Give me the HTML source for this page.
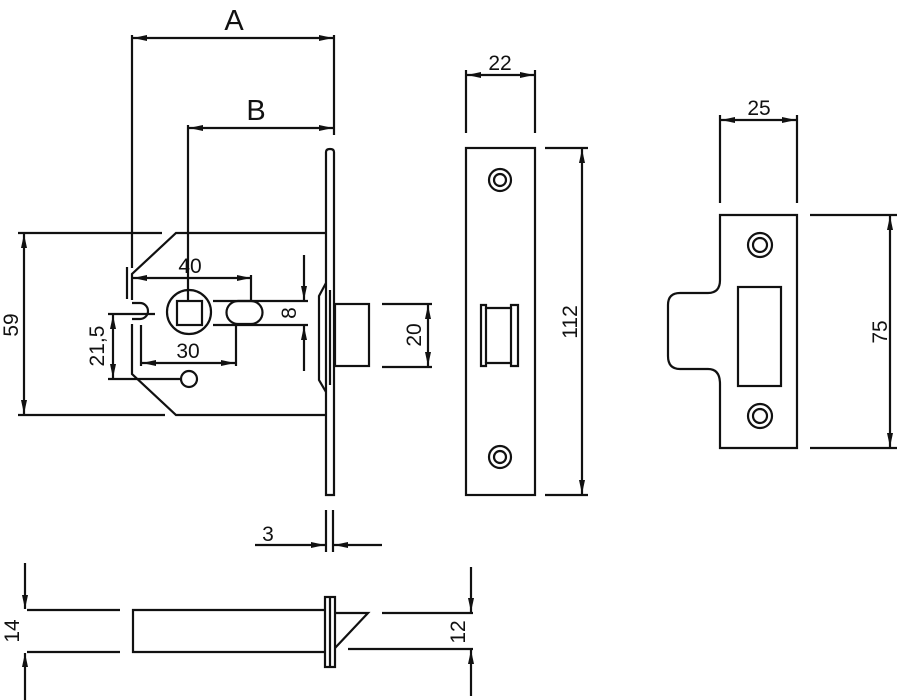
<!DOCTYPE html>
<html><head><style>html,body{margin:0;padding:0;background:#fff}svg{display:block}</style></head>
<body>
<svg width="897" height="700" viewBox="0 0 897 700" xmlns="http://www.w3.org/2000/svg" font-family="Liberation Sans, sans-serif">
<defs>
<marker id="ar" viewBox="0 0 14 6" refX="14" refY="3" markerWidth="14" markerHeight="6" orient="auto-start-reverse" markerUnits="userSpaceOnUse"><path d="M0,0 L14,3 L0,6 z" fill="#111"/></marker>
</defs>
<g stroke="#111" stroke-width="2.2" fill="none">
<line x1="132" y1="35" x2="132" y2="268"/>
<line x1="334" y1="35" x2="334" y2="135"/>
<line x1="133" y1="38" x2="333" y2="38" marker-start="url(#ar)" marker-end="url(#ar)"/>
<line x1="188" y1="125" x2="188" y2="302"/>
<line x1="189" y1="128" x2="333" y2="128" marker-start="url(#ar)" marker-end="url(#ar)"/>
<path d="M326,495 L326,152 Q326,149 330,149 Q334,149 334,152 L334,495 Z"/>
<path d="M326,283 L319,296 L319,380 L326,392"/>
<line x1="330" y1="290" x2="330" y2="385"/>
<path d="M325,233 L176,233 L132,274 L132,300"/>
<path d="M132,303 L140,303 A8,8 0 0 1 140,319 L132,319"/>
<path d="M132,324 L132,374 L176,415 L325,415"/>
<line x1="18" y1="233" x2="162" y2="233"/>
<line x1="18" y1="415" x2="165" y2="415"/>
<line x1="24" y1="234" x2="24" y2="414" marker-start="url(#ar)" marker-end="url(#ar)"/>
<circle cx="189" cy="312" r="22"/>
<rect x="177" y="301" width="25" height="24"/>
<line x1="213" y1="301" x2="308" y2="301"/>
<line x1="213" y1="325" x2="308" y2="325"/>
<path d="M238,301 L251,301 A11.5,11.5 0 0 1 251,324 L238,324 A11.5,11.5 0 0 1 238,301 Z"/>
<circle cx="189" cy="379" r="8"/>
<line x1="155" y1="314" x2="108" y2="314"/>
<line x1="180" y1="379" x2="108" y2="379"/>
<line x1="127" y1="267" x2="127" y2="299"/>
<line x1="251" y1="275" x2="251" y2="300"/>
<line x1="133" y1="278" x2="251" y2="278" marker-start="url(#ar)" marker-end="url(#ar)"/>
<line x1="141" y1="325" x2="141" y2="366"/>
<line x1="236" y1="325" x2="236" y2="366"/>
<line x1="142" y1="363" x2="235" y2="363" marker-start="url(#ar)" marker-end="url(#ar)"/>
<line x1="113" y1="315" x2="113" y2="378" marker-start="url(#ar)" marker-end="url(#ar)"/>
<line x1="304" y1="255" x2="304" y2="300" marker-end="url(#ar)"/>
<line x1="304" y1="371" x2="304" y2="326" marker-end="url(#ar)"/>
<rect x="335" y="304" width="34" height="62"/>
<line x1="382" y1="304" x2="432" y2="304"/>
<line x1="382" y1="367" x2="432" y2="367"/>
<line x1="428" y1="305" x2="428" y2="366" marker-start="url(#ar)" marker-end="url(#ar)"/>
<line x1="326" y1="510" x2="326" y2="552"/>
<line x1="333" y1="510" x2="333" y2="552"/>
<line x1="255" y1="545" x2="325" y2="545" marker-end="url(#ar)"/>
<line x1="382" y1="545" x2="334" y2="545" marker-end="url(#ar)"/>
<rect x="466" y="148" width="69" height="347"/>
<circle cx="500" cy="180" r="11"/><circle cx="500" cy="180" r="6"/>
<circle cx="500" cy="457" r="11"/><circle cx="500" cy="457" r="6"/>
<path d="M481,305 L486,305 L486,308 L511,308 L511,305 L518,305 L518,366 L511,366 L511,363 L486,363 L486,366 L481,366 Z"/>
<line x1="486" y1="308" x2="486" y2="363"/>
<line x1="511" y1="308" x2="511" y2="363"/>
<line x1="466" y1="70" x2="466" y2="133"/>
<line x1="535" y1="70" x2="535" y2="133"/>
<line x1="467" y1="75" x2="534" y2="75" marker-start="url(#ar)" marker-end="url(#ar)"/>
<line x1="545" y1="148" x2="588" y2="148"/>
<line x1="545" y1="495" x2="588" y2="495"/>
<line x1="582" y1="149" x2="582" y2="494" marker-start="url(#ar)" marker-end="url(#ar)"/>
<path d="M720,280 L720,215 L797,215 L797,448 L720,448 L720,384"/>
<path d="M720,280 Q720,293 708,293 L680,293 Q668,293 668,305 L668,356 Q668,369 680,369 L708,369 Q720,369 720,384"/>
<rect x="738" y="287" width="43" height="99"/>
<circle cx="760" cy="245" r="12"/><circle cx="760" cy="245" r="7"/>
<circle cx="760" cy="416" r="12"/><circle cx="760" cy="416" r="7"/>
<line x1="720" y1="115" x2="720" y2="203"/>
<line x1="797" y1="115" x2="797" y2="203"/>
<line x1="721" y1="120" x2="796" y2="120" marker-start="url(#ar)" marker-end="url(#ar)"/>
<line x1="810" y1="215" x2="897" y2="215"/>
<line x1="810" y1="448" x2="897" y2="448"/>
<line x1="890" y1="216" x2="890" y2="447" marker-start="url(#ar)" marker-end="url(#ar)"/>
<line x1="27" y1="610" x2="120" y2="610"/>
<line x1="27" y1="652" x2="120" y2="652"/>
<path d="M325,610 L133,610 L133,652 L325,652"/>
<rect x="325" y="597" width="10" height="70"/>
<line x1="330" y1="597" x2="330" y2="667"/>
<path d="M335,613 L368,613 L335,648"/>
<line x1="382" y1="613" x2="473" y2="613"/>
<line x1="348" y1="649" x2="473" y2="649"/>
<line x1="25" y1="563" x2="25" y2="609" marker-end="url(#ar)"/>
<line x1="25" y1="700" x2="25" y2="653" marker-end="url(#ar)"/>
<line x1="471" y1="567" x2="471" y2="612" marker-end="url(#ar)"/>
<line x1="471" y1="696" x2="471" y2="650" marker-end="url(#ar)"/>
</g>
<g fill="#111" font-size="21">
<text x="234" y="30" font-size="29" text-anchor="middle">A</text>
<text x="256" y="120" font-size="29" text-anchor="middle">B</text>
<text x="190" y="273" text-anchor="middle">40</text>
<text x="188" y="358" text-anchor="middle">30</text>
<text x="268" y="541" text-anchor="middle">3</text>
<text x="500" y="70" text-anchor="middle">22</text>
<text x="759" y="115" text-anchor="middle">25</text>
<text transform="translate(18,325) rotate(-90)" text-anchor="middle">59</text>
<text transform="translate(104,346) rotate(-90)" text-anchor="middle">21,5</text>
<text transform="translate(296,313) rotate(-90)" text-anchor="middle">8</text>
<text transform="translate(421,335) rotate(-90)" text-anchor="middle">20</text>
<text transform="translate(577,322) rotate(-90)" text-anchor="middle">112</text>
<text transform="translate(887,332) rotate(-90)" text-anchor="middle">75</text>
<text transform="translate(19,631) rotate(-90)" text-anchor="middle">14</text>
<text transform="translate(465,632) rotate(-90)" text-anchor="middle">12</text>
</g>
</svg>
</body></html>
